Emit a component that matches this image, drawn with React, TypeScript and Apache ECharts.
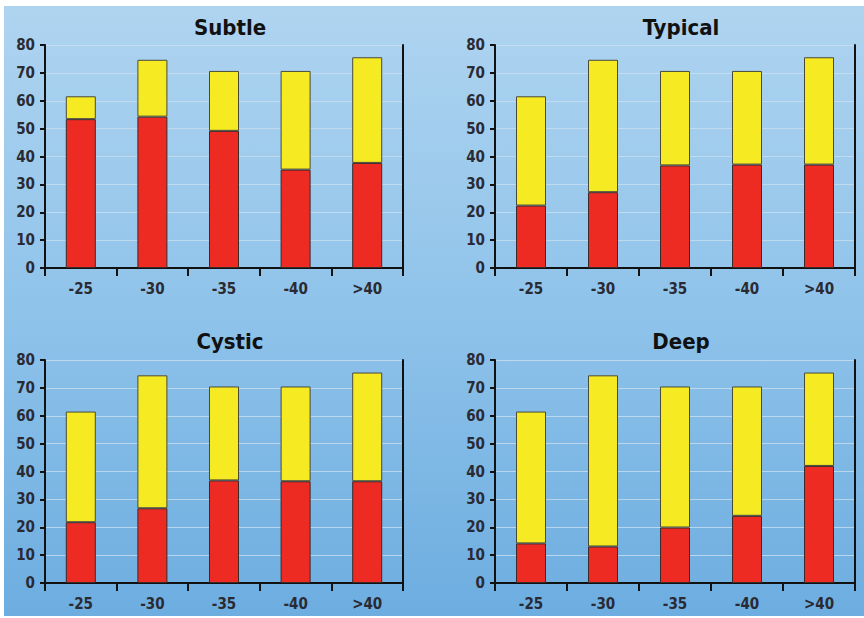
import React, { useEffect, useRef } from "react";
import * as echarts from "echarts";

const categories = ["-25", "-30", "-35", "-40", ">40"];
const yTicks = [0, 10, 20, 30, 40, 50, 60, 70, 80];

const panelTitles = ["Subtle", "Typical", "Cystic", "Deep"];

const subtleRed = [53.4, 54.3, 49.2, 35.3, 37.7];
const subtleYellow = [8.2, 20.4, 21.5, 35.4, 37.9];

const typicalRed = [22.4, 27.2, 36.8, 37.1, 37.1];
const typicalYellow = [39.2, 47.5, 33.9, 33.6, 38.5];

const cysticRed = [21.8, 26.8, 36.8, 36.5, 36.5];
const cysticYellow = [39.7, 47.7, 33.7, 34.0, 39.0];

const deepRed = [14.2, 13.1, 19.9, 24.1, 42.0];
const deepYellow = [47.3, 61.4, 50.6, 46.4, 33.5];

const redSeries = [subtleRed, typicalRed, cysticRed, deepRed];
const yellowSeries = [subtleYellow, typicalYellow, cysticYellow, deepYellow];

const FONT = "'Liberation Sans Narrow', 'DejaVu Sans Condensed', 'Roboto Condensed', Arial, sans-serif";

export default function App() {
  const ref = useRef<HTMLDivElement>(null);

  useEffect(() => {
    if (!ref.current) return;
    const chart = echarts.init(ref.current, null, { renderer: "svg" });

    const grids = [
      { left: 45, top: 45, right: 461, bottom: 350 },
      { left: 495, top: 45, right: 9, bottom: 350 },
      { left: 45, top: 360, right: 461, bottom: 35 },
      { left: 495, top: 360, right: 9, bottom: 35 },
    ];
    const titlePos = [
      { x: 225, y: 11 },
      { x: 676, y: 11 },
      { x: 225, y: 325 },
      { x: 676, y: 325 },
    ];

    const xAxes: any[] = [];
    const yAxes: any[] = [];
    const series: any[] = [];
    const titles: any[] = [];

    grids.forEach((g, i) => {
      titles.push({
        text: panelTitles[i],
        left: titlePos[i].x,
        top: titlePos[i].y,
        textAlign: "center",
        textStyle: {
          fontFamily: FONT,
          fontWeight: "bold",
          fontSize: 22,
          color: "#111111",
        },
      });
      xAxes.push({
        type: "category",
        gridIndex: i,
        data: categories,
        boundaryGap: true,
        axisLine: { show: true, lineStyle: { color: "#111111", width: 2 } },
        axisTick: {
          show: true,
          alignWithLabel: false,
          length: 8,
          lineStyle: { color: "#111111", width: 2 },
        },
        axisLabel: {
          fontFamily: FONT,
          fontSize: 15,
          fontWeight: "bold",
          color: "#2a2a33",
          margin: 13,
        },
        splitLine: { show: false },
      });
      yAxes.push({
        type: "value",
        gridIndex: i,
        position: "left",
        min: yTicks[0],
        max: yTicks[yTicks.length - 1],
        interval: 10,
        axisLine: { show: true, lineStyle: { color: "#111111", width: 2 } },
        axisTick: {
          show: true,
          length: 5,
          lineStyle: { color: "#111111", width: 2 },
        },
        axisLabel: {
          fontFamily: FONT,
          fontSize: 15,
          fontWeight: "bold",
          color: "#2a2a33",
          margin: 10,
        },
        splitLine: {
          show: true,
          lineStyle: { color: "rgba(200,222,240,0.8)", width: 1.2 },
        },
      });
      yAxes.push({
        type: "value",
        gridIndex: i,
        position: "right",
        min: 0,
        max: 80,
        interval: 10,
        axisLine: { show: true, lineStyle: { color: "#111111", width: 2 } },
        axisTick: { show: false },
        axisLabel: { show: false },
        splitLine: { show: false },
      });
      const yIdx = i * 2;
      series.push({
        type: "bar",
        xAxisIndex: i,
        yAxisIndex: yIdx,
        stack: "s" + i,
        barWidth: 30,
        data: redSeries[i],
        itemStyle: { color: "#ee2b22", borderColor: "#3a2a2a", borderWidth: 1 },
      });
      series.push({
        type: "bar",
        xAxisIndex: i,
        yAxisIndex: yIdx,
        stack: "s" + i,
        barWidth: 30,
        data: yellowSeries[i],
        itemStyle: { color: "#f6ea22", borderColor: "#4a4a3a", borderWidth: 1 },
      });
    });

    chart.setOption({
      animation: false,
      backgroundColor: "#ffffff",
      graphic: [
        {
          type: "rect",
          z: -10,
          silent: true,
          shape: { x: 4, y: 6, width: 860, height: 610 },
          style: {
            fill: new echarts.graphic.LinearGradient(0, 0, 0, 1, [
              { offset: 0, color: "#afd4f0" },
              { offset: 0.5, color: "#8fc3ea" },
              { offset: 1, color: "#6dade0" },
            ]),
          },
        },
      ],
      title: titles,
      grid: grids,
      xAxis: xAxes,
      yAxis: yAxes,
      series,
    });

    return () => chart.dispose();
  }, []);

  return (
    <div
      ref={ref}
      style={{ position: "fixed", left: 0, top: 0, width: 864, height: 618 }}
    />
  );
}
